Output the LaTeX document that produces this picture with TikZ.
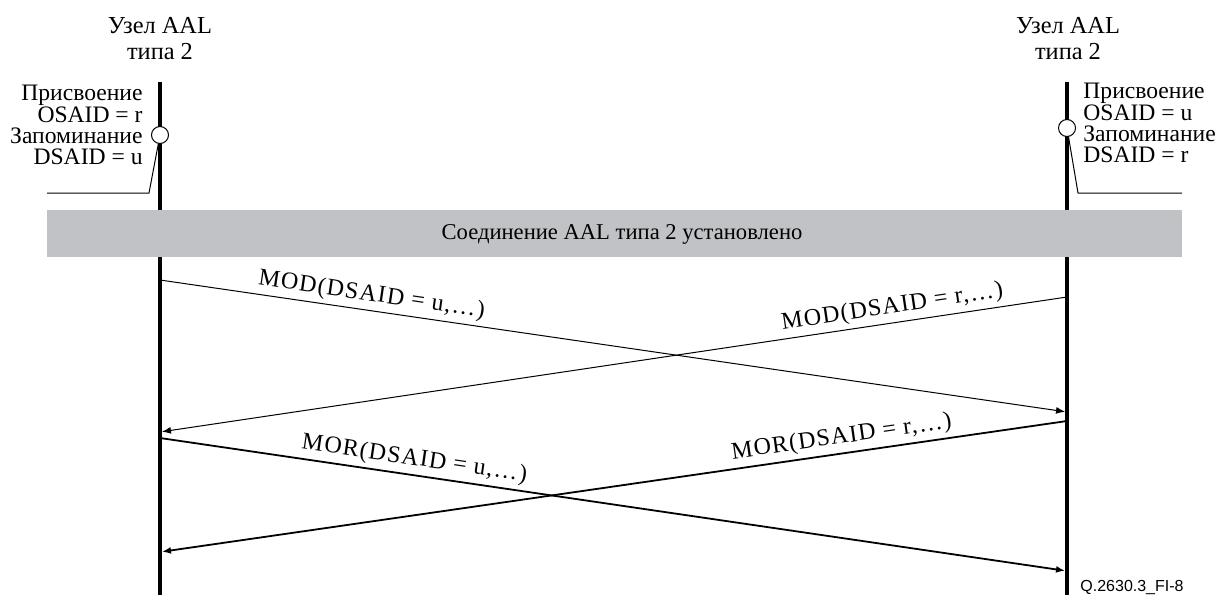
\documentclass[tikz,border=0pt]{standalone}
\usepackage{fontspec}
\setmainfont{Liberation Serif}
\newfontfamily\figfont{Liberation Sans}
\usetikzlibrary{arrows.meta}
\definecolor{bandgray}{RGB}{193,194,198}

\tikzset{
    lifeline/.style={line width=2pt},
    msg/.style={-{Latex[length=4.5pt,width=3.5pt]}, line width=0.5pt, shorten >=1pt},
    msgbold/.style={msg, line width=0.9pt},
    msglabel/.style={sloped, above, inner sep=2pt, font=\fontsize{12}{12}\selectfont\addfontfeature{LetterSpace=5}},
    note/.style={inner sep=0pt, font=\fontsize{11.8}{10.6}\selectfont},
    head/.style={inner sep=0pt, align=center, font=\fontsize{12.2}{13}\selectfont},
    idpoint/.style={circle, draw, fill=white, line width=0.5pt, minimum size=8.5pt, inner sep=0pt},
}

\begin{document}
\begin{tikzpicture}[x=0.5pt,y=-0.5pt]
    \useasboundingbox (0,0) rectangle (1225,595);
    \coordinate (lA) at (160,82) ;
    \coordinate (lB) at (160,595) ;
    \coordinate (rA) at (1067,82) ;
    \coordinate (rB) at (1067,595) ;
    % nodes and lifelines
    \node[head] (nodeL) at (160,38.5) {Узел AAL\\типа 2};
    \node[head] (nodeR) at (1068,38.5) {Узел AAL\\типа 2};
    \draw[lifeline] (lA) -- (lB) ;
    \draw[lifeline] (rA) -- (rB) ;
    % assigned / stored identifiers
    \node[note, align=right, anchor=north east] (idL) at (143,85) {Присвоение\\OSAID = r\\Запоминание\\DSAID = u};
    \node[note, align=left, anchor=north west] (idR) at (1083,83) {Присвоение\\OSAID = u\\Запоминание\\DSAID = r};
    \node[idpoint] (cL) at (160,135) {};
    \node[idpoint] (cR) at (1067,128) {};
    \coordinate (kL) at (149,193) ;
    \coordinate (kL0) at (47,193) ;
    \coordinate (kR) at (1078,193) ;
    \coordinate (kR0) at (1182,193) ;
    \draw[line width=0.5pt] (kL0) -- (kL) -- (cL) ;
    \draw[line width=0.5pt] (kR0) -- (kR) -- (cR) ;
    % established connection
    \fill[bandgray] (47,210) rectangle (1182,257) ;
    \node[font=\fontsize{11.3}{13}\selectfont] (band) at (622,234) {Соединение AAL типа 2 установлено};
    % modify / modify ack messages
    \coordinate (l1) at (160,280) ;
    \coordinate (r1) at (1067,412) ;
    \coordinate (r2) at (1067,297) ;
    \coordinate (l2) at (160,432) ;
    \coordinate (l3) at (160,438) ;
    \coordinate (r3) at (1067,571) ;
    \coordinate (r4) at (1067,421) ;
    \coordinate (l4) at (160,552) ;
    \draw[msg] (l1) -- node[msglabel, pos=0.231] (mod1) {MOD(DSAID = u,…)} (r1) ;
    \draw[msg] (r2) -- node[msglabel, pos=0.19] (mod2) {MOD(DSAID = r,…)} (l2) ;
    \draw[msgbold] (l3) -- node[msglabel, pos=0.278] (mor1) {MOR(DSAID = u,…)} (r3) ;
    \draw[msgbold] (r4) -- node[msglabel, pos=0.246] (mor2) {MOR(DSAID = r,…)} (l4) ;
    \node[anchor=west, inner sep=0pt, font=\figfont\fontsize{8}{9}\selectfont] (fig) at (1080,587) {Q.2630.3\_FI-8};
\end{tikzpicture}
\end{document}
